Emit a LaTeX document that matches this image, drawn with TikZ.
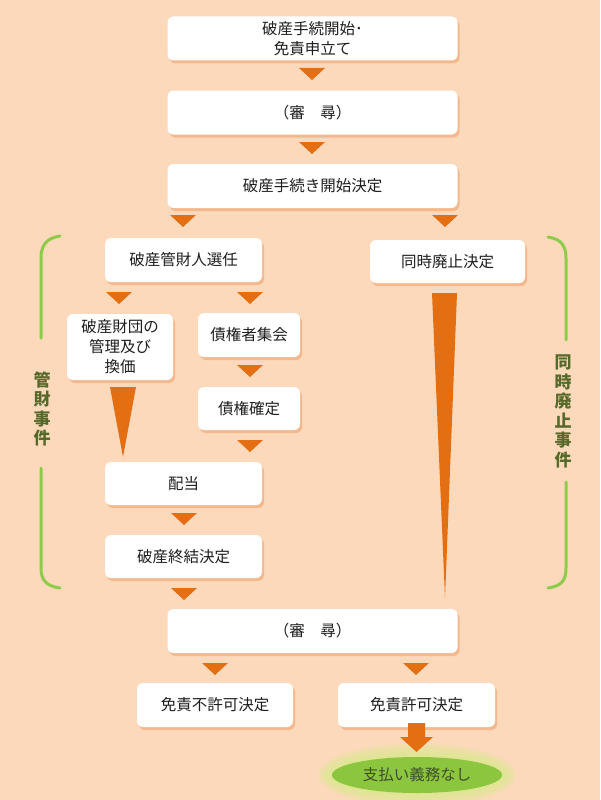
\documentclass[tikz,border=0pt]{standalone}
\usepackage{fontspec}
\newfontfamily\jp{Noto Sans CJK JP}
\usetikzlibrary{shadows,shapes.geometric}
\definecolor{bgc}{HTML}{FCD9BB}
\definecolor{arr}{HTML}{E46E12}
\definecolor{shc}{HTML}{EBA06A}
\definecolor{brk}{HTML}{8FCB4A}
\definecolor{lbl}{HTML}{55692A}
\definecolor{ell}{HTML}{8CC63F}
\definecolor{glow}{HTML}{D9EC8A}
\definecolor{txt}{HTML}{1E1E1E}
\definecolor{etxt}{HTML}{3E4E2C}
\tikzset{
  box/.style={fill=white, rounded corners=6pt, inner sep=0pt, align=center, text=txt,
    font=\jp\fontsize{15.5}{20}\selectfont,
    drop shadow={shadow xshift=2pt, shadow yshift=-3pt, fill=shc, opacity=0.55}},
  tri/.style={fill=arr},
  bracket/.style={draw=brk, line width=3pt, line cap=round},
  side/.style={text=lbl, align=center, inner sep=0pt, font=\jp\bfseries\fontsize{17}{19.5}\selectfont},
}
\newcommand\dtri[2]{\fill[tri] ({#1-13},#2) -- ({#1+13},#2) -- (#1,{#2+12}) -- cycle;}
\begin{document}
\begin{tikzpicture}[x=1pt,y=-1pt]
\fill[bgc] (0,0) rectangle (600,800);
\useasboundingbox (0,0) rectangle (600,800);
% boxes
\node[box, minimum width=290pt, minimum height=44pt] (a) at (312.5,38.5) {破産手続開始･\\免責申立て};
\node[box, minimum width=290pt, minimum height=44pt] (b) at (312.5,112.5) {（審　尋）};
\node[box, minimum width=290pt, minimum height=44pt] (c) at (312.5,186) {破産手続き開始決定};
\node[box, minimum width=157pt, minimum height=44pt] (d) at (183.5,260) {破産管財人選任};
\node[box, minimum width=155pt, minimum height=43pt] (e) at (447.5,261.5) {同時廃止決定};
\node[box, minimum width=106pt, minimum height=66pt] (f) at (120,347) {破産財団の\\管理及び\\換価};
\node[box, minimum width=102pt, minimum height=44pt] (g) at (249,335) {債権者集会};
\node[box, minimum width=102pt, minimum height=43pt] (h) at (249,408.5) {債権確定};
\node[box, minimum width=157pt, minimum height=43pt] (i) at (183.5,483.5) {配当};
\node[box, minimum width=157pt, minimum height=43pt] (j) at (183.5,556.5) {破産終結決定};
\node[box, minimum width=290pt, minimum height=44pt] (k) at (312.5,631) {（審　尋）};
\node[box, minimum width=156pt, minimum height=44pt] (l) at (215,705) {免責不許可決定};
\node[box, minimum width=157pt, minimum height=44pt] (m) at (416.5,705) {免責許可決定};
% triangles
\dtri{312}{68}
\dtri{312}{142}
\dtri{183}{215}
\dtri{445}{215}
\dtri{119}{292}
\dtri{250}{292}
\dtri{250}{365}
\dtri{250}{440}
\dtri{184}{513}
\dtri{184}{588}
\dtri{215}{663}
\dtri{416}{663}
% long wedges
\fill[tri] (110,387) -- (136,387) -- (123,457) -- cycle;
\fill[tri] (432,293) -- (457,293) -- (445,598) -- cycle;
% glow + ellipse
\foreach \r in {14,12,10,8,6,4,2}
  \fill[glow, opacity=0.18] (417,775) ellipse ({85+\r} and {18+\r});
\node[ellipse, fill=ell, minimum width=170pt, minimum height=36pt, inner sep=0pt,
  text=etxt, font=\jp\fontsize{15.5}{18}\selectfont] (p) at (417,775) {支払い義務なし};
% block arrow
\fill[arr] (408,723) -- (425,723) -- (425,737) -- (433,737) -- (416.5,752) -- (400,737) -- (408,737) -- cycle;
% brackets
\draw[bracket] (60,236) .. controls (46,238) and (41,246) .. (41,258) -- (41,338);
\draw[bracket] (41,468) -- (41,568) .. controls (41,580) and (46,586) .. (60,588);
\draw[bracket] (548,237) .. controls (562,239) and (566,247) .. (566,258) -- (566,340);
\draw[bracket] (566,482) -- (566,568) .. controls (566,580) and (562,586) .. (548,588);
\node[side] (lt) at (42,409) {管\\財\\事\\件};
\node[side] (rt) at (563,411.5) {同\\時\\廃\\止\\事\\件};
\end{tikzpicture}
\end{document}
